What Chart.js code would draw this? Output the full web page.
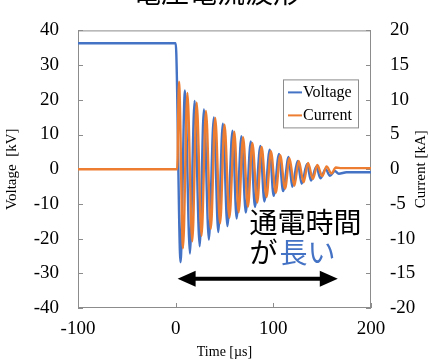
<!DOCTYPE html>
<html>
<head>
<meta charset="utf-8">
<script src="https://cdn.jsdelivr.net/npm/chart.js@4/dist/chart.umd.min.js"></script>
<style>
  html, body { margin: 0; padding: 0; background: #fff; }
</style>
</head>
<body>
<canvas id="waveChart" width="428" height="364"></canvas>
<script>
// chart text
const chartTitle = '電圧電流波形';
const xTitle = 'Time [\u00b5s]';
const yLeftTitle = 'Voltage  [kV]';
const yRightTitle = 'Current [kA]';
const noteLine1 = '通電時間';
const noteLine2a = 'が';
const noteLine2b = '長い';

// voltage trace (time in us, value in kV)
const voltageTime = [-100, 0, 5, 9.5, 14.6, 19.4, 24.6, 28.9, 34, 39.1, 43.6, 48.3, 53, 58.2, 62.4, 67.3,
  71.8, 76.9, 81.2, 86.7, 90.8, 96.3, 100.3, 105.8, 110, 115.6, 119.4, 124.8, 129, 134.5, 138.6, 144,
  148.2, 153.5, 158, 163, 167, 175, 200];
const voltageKV = [36.3, 36.3, -26.8, 22.7, -24.3, 19.7, -22.2, 17.2, -20.3, 14.9, -18.1, 13.1, -16.4, 11.1, -14.2, 9.5,
  -12.5, 8.0, -10.9, 6.7, -9.3, 5.6, -7.7, 4.4, -6.3, 3.5, -5.1, 2.4, -4.2, 1.5, -3.3, 0.7,
  -2.6, 0.0, -1.9, -0.5, -1.3, -0.9, -0.9];

// current trace (time in us, value in kA)
const currentTime = [-100, 1.5, 3.4, 7.5, 12, 17, 21.5, 26.5, 31, 36, 40.5, 45.5, 50, 55, 60, 64.5,
  69, 74, 78.5, 83.5, 88, 93, 97.5, 102.5, 107, 112, 116.5, 121.5, 126, 131, 135.5, 140.5,
  145, 150, 154.5, 159.5, 164, 170, 200];
const currentKA = [0, 0, 12.6, -11.4, 11.0, -10.4, 9.6, -9.6, 8.4, -8.6, 7.4, -7.8, 6.4, -7.0, 5.4, -6.2,
  4.6, -5.4, 3.8, -4.8, 3.2, -4.0, 2.6, -3.4, 2.0, -2.8, 1.6, -2.4, 1.2, -1.9, 0.9, -1.4,
  0.6, -1.0, 0.4, -0.6, 0.25, 0.15, 0.15];

// arrow under the decay (time span, voltage level)
const arrowSpan = [2, 166];
const arrowLevel = -31.6;

const BLUE = '#4472c4';
const ORANGE = '#ed7d31';
const FRAME = '#8c8c8c';
const SERIF = "'Liberation Serif', 'Times New Roman', serif";
const CJK = "'Noto Sans CJK JP', 'Noto Sans CJK SC', sans-serif";

function toPoints(xs, ys) {
  return xs.map((x, i) => ({ x: x, y: ys[i] }));
}

const decor = {
  id: 'decor',
  beforeDatasetsDraw(chart) {
    const ctx = chart.ctx;
    const a = chart.chartArea;
    const sx = chart.scales.x, sy = chart.scales.y, sy1 = chart.scales.y1;
    ctx.save();
    ctx.strokeStyle = FRAME;
    ctx.lineWidth = 1;
    ctx.strokeRect(a.left + 0.5, a.top + 0.5, a.right - a.left - 1, a.bottom - a.top - 1);
    ctx.beginPath();
    sy.ticks.forEach((t) => {
      const py = Math.round(sy.getPixelForValue(t.value)) + 0.5;
      ctx.moveTo(a.left, py); ctx.lineTo(a.left + 5, py);
    });
    sy1.ticks.forEach((t) => {
      const py = Math.round(sy1.getPixelForValue(t.value)) + 0.5;
      ctx.moveTo(a.right - 5, py); ctx.lineTo(a.right, py);
    });
    sx.ticks.forEach((t) => {
      const px = Math.round(sx.getPixelForValue(t.value)) + 0.5;
      ctx.moveTo(px, a.bottom); ctx.lineTo(px, a.bottom - 5);
    });
    ctx.stroke();
    ctx.restore();
  },
  afterDraw(chart) {
    const ctx = chart.ctx;
    const a = chart.chartArea;
    const sx = chart.scales.x, sy = chart.scales.y;
    ctx.save();

    // title, clipped at the top edge like the source
    ctx.fillStyle = '#000';
    ctx.font = '28px ' + CJK;
    ctx.textAlign = 'center';
    ctx.textBaseline = 'middle';
    ctx.fillText(chartTitle, 217, -8);

    // right axis title, reading upwards
    ctx.save();
    ctx.translate(421, (a.top + a.bottom) / 2);
    ctx.rotate(-Math.PI / 2);
    ctx.font = '15px ' + SERIF;
    ctx.fillText(yRightTitle, 0, 0);
    ctx.restore();

    // legend box
    const lx = a.right - 88, ly = a.top + 49, lw = 75, lh = 48;
    ctx.fillStyle = '#fff';
    ctx.fillRect(lx, ly, lw, lh);
    ctx.strokeStyle = FRAME;
    ctx.lineWidth = 1;
    ctx.strokeRect(lx + 0.5, ly + 0.5, lw, lh);
    ctx.font = '16px ' + SERIF;
    ctx.textAlign = 'left';
    ctx.textBaseline = 'middle';
    chart.data.datasets.forEach((ds, i) => {
      const ry = ly + 13 + i * 23;
      ctx.strokeStyle = ds.borderColor;
      ctx.lineWidth = 2;
      ctx.beginPath();
      ctx.moveTo(lx + 5, ry); ctx.lineTo(lx + 19, ry);
      ctx.stroke();
      ctx.fillStyle = '#000';
      ctx.fillText(ds.label, lx + 20, ry);
    });

    // note text
    const nx = sx.getPixelForValue(75.5);
    ctx.font = '28px ' + CJK;
    ctx.fillStyle = '#000';
    ctx.fillText(noteLine1, nx, sy.getPixelForValue(-15.4));
    const n2y = sy.getPixelForValue(-24.0);
    ctx.fillText(noteLine2a, nx, n2y);
    ctx.fillStyle = BLUE;
    ctx.fillText(noteLine2b, nx + ctx.measureText(noteLine2a).width + 2, n2y);

    // double-headed arrow
    const x0 = sx.getPixelForValue(arrowSpan[0]);
    const x1 = sx.getPixelForValue(arrowSpan[1]);
    const ay = sy.getPixelForValue(arrowLevel);
    ctx.strokeStyle = '#000';
    ctx.fillStyle = '#000';
    ctx.lineWidth = 4;
    ctx.beginPath();
    ctx.moveTo(x0 + 10, ay); ctx.lineTo(x1 - 10, ay);
    ctx.stroke();
    ctx.beginPath();
    ctx.moveTo(x0, ay); ctx.lineTo(x0 + 18, ay - 8); ctx.lineTo(x0 + 18, ay + 8); ctx.closePath();
    ctx.moveTo(x1, ay); ctx.lineTo(x1 - 18, ay - 8); ctx.lineTo(x1 - 18, ay + 8); ctx.closePath();
    ctx.fill();
    ctx.restore();
  }
};

new Chart(document.getElementById('waveChart'), {
  type: 'line',
  data: {
    datasets: [
      {
        label: 'Voltage',
        data: toPoints(voltageTime, voltageKV),
        yAxisID: 'y',
        borderColor: BLUE,
        borderWidth: 2.4,
        pointRadius: 0,
        cubicInterpolationMode: 'monotone',
        order: 1
      },
      {
        label: 'Current',
        data: toPoints(currentTime, currentKA),
        yAxisID: 'y1',
        borderColor: ORANGE,
        borderWidth: 2.4,
        pointRadius: 0,
        cubicInterpolationMode: 'monotone',
        order: 0
      }
    ]
  },
  options: {
    responsive: false,
    animation: false,
    layout: { padding: { top: 16, left: 0, right: 0, bottom: 0 } },
    plugins: {
      legend: { display: false },
      tooltip: { enabled: false }
    },
    scales: {
      x: {
        type: 'linear',
        min: -100,
        max: 200,
        ticks: { stepSize: 100, color: '#000', padding: 10, maxRotation: 0, font: { family: SERIF, size: 19 } },
        grid: { display: false, drawTicks: false },
        border: { display: false },
        title: { display: true, text: xTitle, color: '#000', padding: { top: 0, bottom: 3 }, font: { family: SERIF, size: 14 } },
        afterFit(scale) { scale.height = 56; }
      },
      y: {
        position: 'left',
        min: -40,
        max: 40,
        ticks: { stepSize: 10, color: '#000', padding: 19, font: { family: SERIF, size: 19 } },
        grid: { display: false, drawTicks: false },
        border: { display: false },
        title: { display: true, text: yLeftTitle, color: '#000', padding: { top: 3, bottom: 0 }, font: { family: SERIF, size: 15 } },
        afterFit(scale) { scale.width = 78; }
      },
      y1: {
        position: 'right',
        min: -20,
        max: 20,
        ticks: { stepSize: 5, color: '#000', padding: 19, font: { family: SERIF, size: 19 } },
        grid: { display: false, drawTicks: false },
        border: { display: false },
        afterFit(scale) { scale.width = 57; }
      }
    }
  },
  plugins: [decor]
});
</script>
</body>
</html>
